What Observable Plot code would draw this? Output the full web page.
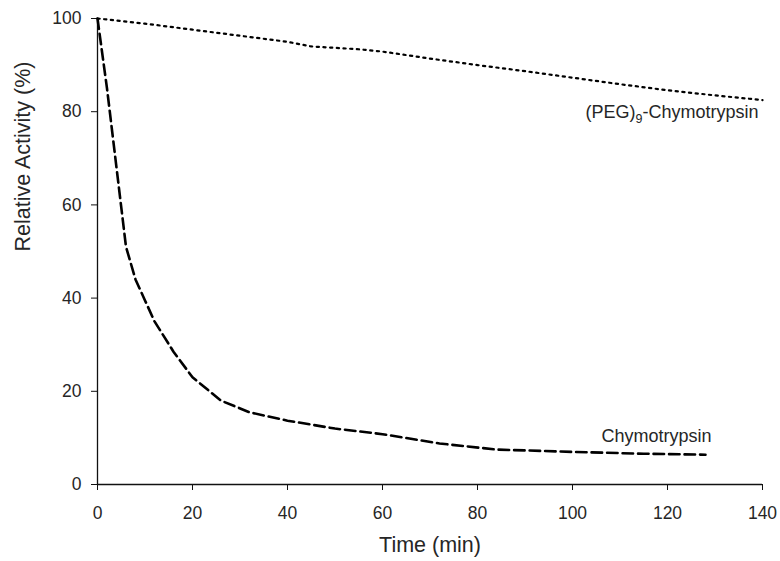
<!DOCTYPE html>
<html>
<head>
<meta charset="utf-8">
<script src="https://cdn.jsdelivr.net/npm/d3@7"></script>
<script src="https://cdn.jsdelivr.net/npm/@observablehq/plot@0.6"></script>
<style>
  html, body { margin: 0; padding: 0; background: #ffffff; }
</style>
</head>
<body>
<div id="chart"></div>
<script>
// Chymotrypsin (dashed)
const chymoTime = [0, 2, 6, 8, 10, 12, 16, 20, 26, 32, 40, 50, 60, 72, 84, 100, 115, 128];
const chymoActivity = [100, 85, 51, 44, 39.5, 35, 28.5, 23, 18, 15.5, 13.7, 12, 10.8, 8.8, 7.5, 7.0, 6.6, 6.4];

// (PEG)9-Chymotrypsin (dotted)
const pegTime = [0, 10, 20, 30, 40, 45, 55, 60, 70, 80, 90, 100, 110, 120, 130, 140];
const pegActivity = [100, 98.9, 97.6, 96.3, 95, 94, 93.4, 92.9, 91.4, 90, 88.7, 87.3, 85.9, 84.6, 83.5, 82.5];

const xTicks = [0, 20, 40, 60, 80, 100, 120, 140];
const yTicks = [0, 20, 40, 60, 80, 100];

const xTitle = "Time (min)";
const yTitle = "Relative Activity (%)";
const chymoLabel = "Chymotrypsin";
const pegLabel = "(PEG)9-Chymotrypsin";

const chymo = chymoTime.map((t, i) => ({time: t, activity: chymoActivity[i]}));
const peg = pegTime.map((t, i) => ({time: t, activity: pegActivity[i]}));

const font = "'Liberation Sans', Arial, Helvetica, sans-serif";
const textColor = "#262626";

const chart = Plot.plot({
  width: 780,
  height: 561,
  marginLeft: 97,
  marginRight: 18,
  marginTop: 18,
  marginBottom: 77,
  style: {fontFamily: font, fontSize: "17.5px", background: "#ffffff", color: textColor, overflow: "visible"},
  x: {domain: [0, 140]},
  y: {domain: [0, 100]},
  marks: [
    Plot.axisX({ticks: xTicks, tickSize: 6, tickPadding: 16, fontSize: 17.5, label: null, stroke: "#111", color: textColor}),
    Plot.axisY({ticks: yTicks, tickSize: 6, tickPadding: 10, fontSize: 17.5, label: null, stroke: "#111", color: textColor}),
    Plot.ruleX([0], {stroke: "#111", strokeWidth: 1.3}),
    Plot.ruleY([0], {stroke: "#111", strokeWidth: 1.3}),
    Plot.line(peg, {x: "time", y: "activity", stroke: "#000", strokeWidth: 2.2, strokeDasharray: "2.2,4.5"}),
    Plot.line(chymo, {x: "time", y: "activity", stroke: "#000", strokeWidth: 2.6, strokeDasharray: "10.5,5"}),
    Plot.text(peg.slice(-1), {x: "time", y: "activity", text: () => pegLabel, textAnchor: "end", dx: -4, dy: 12, fontSize: 18, fill: textColor}),
    Plot.text(chymo.slice(-1), {x: "time", y: "activity", text: () => chymoLabel, textAnchor: "end", dx: 6, dy: -18, fontSize: 18, fill: textColor}),
    Plot.text([xTitle], {frameAnchor: "bottom", dy: 67, fontSize: 21.5, fill: textColor}),
    Plot.text([yTitle], {frameAnchor: "left", rotate: -90, dx: -74, fontSize: 21.5, fill: textColor})
  ]
});

// subscript the 9 in the PEG label
chart.querySelectorAll("text").forEach(t => {
  if (t.textContent === pegLabel) {
    t.textContent = "";
    const ns = "http://www.w3.org/2000/svg";
    const a = document.createElementNS(ns, "tspan"); a.textContent = "(PEG)";
    const b = document.createElementNS(ns, "tspan"); b.textContent = "9"; b.setAttribute("dy", "5"); b.setAttribute("font-size", "12.5");
    const c = document.createElementNS(ns, "tspan"); c.textContent = "-Chymotrypsin"; c.setAttribute("dy", "-5");
    t.append(a, b, c);
  }
});

document.getElementById("chart").appendChild(chart);
</script>
</body>
</html>
